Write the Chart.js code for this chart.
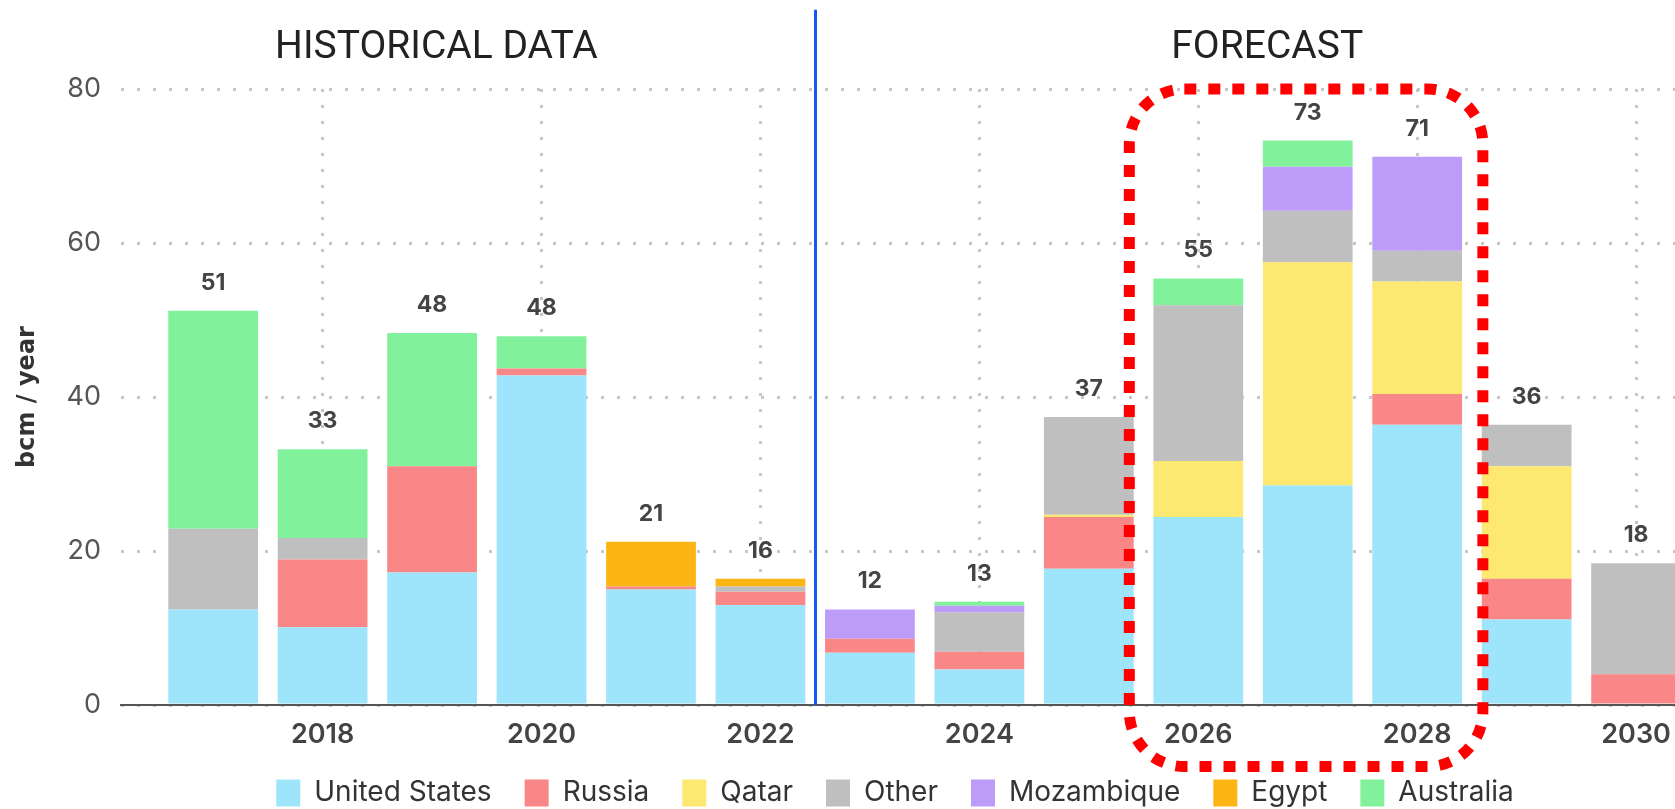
<!DOCTYPE html>
<html>
<head>
<meta charset="utf-8">
<script src="https://cdn.jsdelivr.net/npm/chart.js@4.4.1/dist/chart.umd.min.js"></script>
<style>
  html, body { margin: 0; padding: 0; background: #fff; overflow: hidden; }
  #wrap { width: 1790px; height: 817px; }
</style>
</head>
<body>
<div id="wrap"><canvas id="lng-chart" width="1790" height="817"></canvas></div>
<script>
// years on the x axis (bcm / year of new LNG export capacity)
var years = [2017, 2018, 2019, 2020, 2021, 2022, 2023, 2024, 2025, 2026, 2027, 2028, 2029, 2030];
var unitedStates = [12.4, 10.1, 17.2, 42.8, 15.0, 13.0, 6.8, 4.6, 17.7, 24.4, 28.5, 36.4, 11.1, 0];
var russia       = [0, 8.8, 13.8, 0.9, 0.4, 1.7, 1.8, 2.3, 6.7, 0, 0, 4.0, 5.3, 4.0];
var qatar        = [0, 0, 0, 0, 0, 0, 0, 0, 0.3, 7.3, 29.0, 14.6, 14.6, 0];
var other        = [10.5, 2.8, 0, 0, 0, 0.7, 0, 5.1, 12.7, 20.2, 6.7, 4.0, 5.4, 14.4];
var mozambique   = [0, 0, 0, 0, 0, 0, 3.8, 0.9, 0, 0, 5.7, 12.2, 0, 0];
var egypt        = [0, 0, 0, 0, 5.8, 1.0, 0, 0, 0, 0, 0, 0, 0, 0];
var australia    = [28.3, 11.5, 17.3, 4.2, 0, 0, 0, 0.5, 0, 3.5, 3.4, 0, 0, 0];

var xTickYears = [2018, 2020, 2022, 2024, 2026, 2028, 2030];
var yTickValues = [0, 20, 40, 60, 80];

var seriesNames  = ["United States", "Russia", "Qatar", "Other", "Mozambique", "Egypt", "Australia"];
var seriesData   = [unitedStates, russia, qatar, other, mozambique, egypt, australia];
var seriesColors = ["#9ee5fb", "#fa8787", "#fde872", "#bfbfbf", "#bd9cf9", "#fdb514", "#81f29b"];

var datasets = [];
for (var i = 0; i < seriesNames.length; i++) {
  datasets.push({
    label: seriesNames[i],
    data: seriesData[i],
    backgroundColor: seriesColors[i],
    borderWidth: 0,
    barPercentage: 0.82,
    categoryPercentage: 1
  });
}

// where the extra marks go, in axis units
var splitYear = 2022.5;
var splitTop = 90.3;
var sectionTitles = [
  { text: "HISTORICAL DATA", x: 2019.04, y: 85.3 },
  { text: "FORECAST", x: 2026.63, y: 85.3 }
];
var highlight = { x1: 2025.37, x2: 2028.6, y1: 80, y2: -8 };

function roundRectPath(ctx, l, t, r, b, rad) {
  ctx.beginPath();
  ctx.moveTo(l + rad, t);
  ctx.arcTo(r, t, r, b, rad);
  ctx.arcTo(r, b, l, b, rad);
  ctx.arcTo(l, b, l, t, rad);
  ctx.arcTo(l, t, r, t, rad);
  ctx.closePath();
}

var overlay = {
  id: "overlay",
  afterDatasetsDraw: function(chart) {
    var ctx = chart.ctx, x = chart.scales.x, y = chart.scales.y;
    ctx.save();
    // totals over the bars
    ctx.font = "bold 23px Inter";
    ctx.fillStyle = "#444";
    ctx.textAlign = "center";
    ctx.textBaseline = "middle";
    for (var i = 0; i < years.length; i++) {
      var total = 0;
      for (var s = 0; s < seriesData.length; s++) total += seriesData[s][i];
      ctx.fillText(String(Math.round(total)), x.getPixelForValue(years[i]), y.getPixelForValue(total) - 28);
    }
    // section titles
    ctx.font = "39px Roboto";
    ctx.fillStyle = "#222";
    sectionTitles.forEach(function(t) {
      ctx.fillText(t.text, x.getPixelForValue(t.x), y.getPixelForValue(t.y));
    });
    // historical / forecast split
    ctx.strokeStyle = "#1657f5";
    ctx.lineWidth = 3;
    ctx.beginPath();
    var sx = Math.round(x.getPixelForValue(splitYear)) + 0.5;
    ctx.moveTo(sx, y.getPixelForValue(splitTop));
    ctx.lineTo(sx, y.getPixelForValue(0));
    ctx.stroke();
    ctx.restore();
  },
  afterDraw: function(chart) {
    var ctx = chart.ctx, x = chart.scales.x, y = chart.scales.y;
    ctx.save();
    ctx.strokeStyle = "#ff0000";
    ctx.lineWidth = 11;
    ctx.setLineDash([12, 12]);
    roundRectPath(ctx, x.getPixelForValue(highlight.x1), y.getPixelForValue(highlight.y1),
      x.getPixelForValue(highlight.x2), y.getPixelForValue(highlight.y2), 55);
    ctx.stroke();
    ctx.restore();
  }
};

new Chart(document.getElementById("lng-chart"), {
  type: "bar",
  data: { labels: years, datasets: datasets },
  plugins: [overlay],
  options: {
    responsive: false,
    animation: false,
    devicePixelRatio: 1,
    layout: { padding: { top: 89, left: 0, right: 0, bottom: 0 } },
    plugins: {
      tooltip: { enabled: false },
      legend: {
        position: "bottom",
        labels: {
          boxWidth: 24,
          boxHeight: 27,
          padding: 33,
          color: "#333",
          font: { family: "Inter", size: 28 }
        }
      }
    },
    scales: {
      x: {
        type: "linear",
        stacked: true,
        offset: false,
        min: 2016.158,
        max: 2031.406,
        afterBuildTicks: function(axis) {
          axis.ticks = xTickYears.map(function(v) { return { value: v }; });
        },
        afterFit: function(axis) { axis.height = 41; },
        ticks: {
          padding: 14,
          maxRotation: 0,
          autoSkip: false,
          color: "#444",
          font: { family: "Inter", size: 27, weight: "600" },
          callback: function(v) { return String(v); }
        },
        grid: { offset: false, drawTicks: false, color: "#c6c6c6", lineWidth: 3 },
        border: { display: true, color: "#555", width: 2, dash: [3, 13] }
      },
      y: {
        stacked: true,
        min: 0,
        max: 80,
        afterBuildTicks: function(axis) {
          axis.ticks = yTickValues.map(function(v) { return { value: v }; });
        },
        afterFit: function(axis) { axis.width = 121; },
        title: {
          display: true,
          text: "bcm / year",
          color: "#333",
          padding: { top: 13, bottom: 0 },
          font: { family: "DejaVu Sans", size: 24, weight: "bold" }
        },
        ticks: {
          padding: 20,
          color: "#555",
          font: { family: "Inter", size: 27 }
        },
        grid: { drawTicks: false, color: "#c6c6c6", lineWidth: 3 },
        border: { display: false, dash: [3, 13] }
      }
    }
  }
});
</script>
</body>
</html>
